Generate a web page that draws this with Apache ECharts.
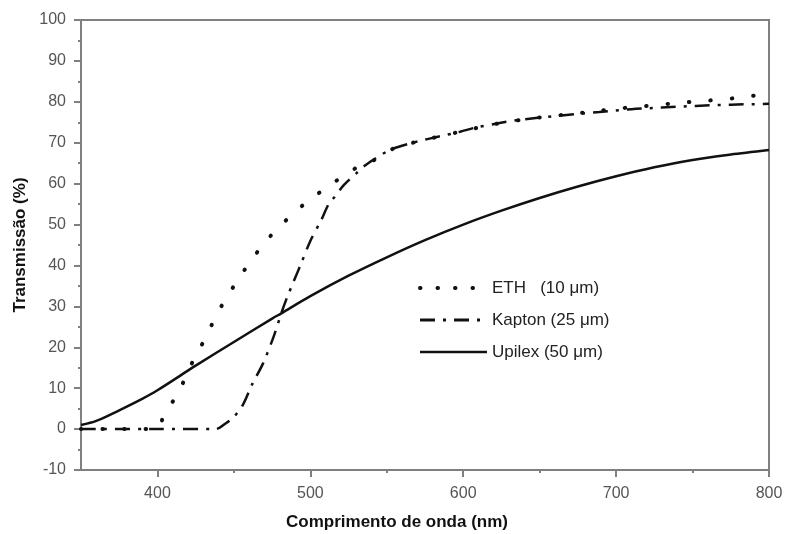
<!DOCTYPE html>
<html>
<head>
<meta charset="utf-8">
<script src="https://cdn.jsdelivr.net/npm/echarts@6/dist/echarts.min.js"></script>
<style>
html,body{margin:0;padding:0;background:#fff;}
#chart{width:789px;height:534px;}
</style>
</head>
<body>
<div id="chart"></div>
<script>
// ---- data ----
const seriesNames = ['ETH   (10 \u03bcm)', 'Kapton (25 \u03bcm)', 'Upilex (50 \u03bcm)'];

const waveETH  = [350, 380, 399, 405, 413, 425, 432, 438, 445, 453, 462, 472, 484, 496, 509, 521, 533, 541, 552, 569, 584, 598, 620, 640, 660, 680, 700, 720, 740, 760, 780, 800];
const transETH = [0,   0,   0,   4,   8.5, 18,  22.6, 27.5, 32, 36.7, 41.6, 46.4, 51, 55, 58.6, 61.7, 64.5, 65.6, 68.2, 70.2, 71.5, 72.7, 74.5, 75.7, 76.6, 77.4, 78.3, 79, 79.7, 80.3, 81, 82];

const waveKapton  = [350, 400, 438, 445, 450, 456, 462, 469, 476, 481, 485, 489, 494, 500, 507, 512, 516, 522, 530, 536, 552, 569, 584, 598, 608, 622, 635, 660, 689, 710, 730, 752, 775, 800];
const transKapton = [0,   0,   0,   1.5, 3,   6,   11,  16,  22.6, 28.3, 32.4, 36, 40.5, 46, 51, 55, 56.8, 59.7, 62.5, 64.5, 68.2, 70.2, 71.5, 72.7, 73.7, 74.7, 75.5, 76.5, 77.5, 78.2, 78.6, 79, 79.3, 79.5];

const waveUpilex  = [350, 360, 375, 390, 400, 425, 450, 475, 481, 500, 525, 550, 575, 600, 625, 650, 675, 700, 725, 750, 775, 800];
const transUpilex = [1,   2,   4.6, 7.4, 9.5, 15.5, 21.3, 27, 28.3, 32.5, 37.5, 42, 46.2, 50, 53.4, 56.5, 59.3, 61.8, 64, 65.8, 67.1, 68.2];

const xTickLabels = [400, 500, 600, 700, 800];
const xMinorTicks = [450, 550, 650, 750];

const xTitle = 'Comprimento de onda (nm)';
const yTitle = 'Transmiss\u00e3o (%)';

// ---- build ----
function pairs(xs, ys){ return xs.map((x,i)=>[x, ys[i]]); }
const FONT = 'Liberation Sans, Arial, sans-serif';
const AXC = '#808080';

const chart = echarts.init(document.getElementById('chart'), null, {renderer:'canvas'});
chart.setOption({
  animation: false,
  backgroundColor: '#fff',
  grid: {left: 81, right: 20, top: 20, bottom: 64, show: true, borderColor: AXC, borderWidth: 2,
         backgroundColor: 'transparent', containLabel: false, outerBoundsMode: 'none'},
  legend: {
    orient: 'vertical', left: 418, top: 278, padding: 0,
    itemWidth: 67, itemHeight: 14, itemGap: 12,
    itemStyle: {opacity: 0, borderWidth: 0},
    textStyle: {fontSize: 17, color: '#222', fontFamily: FONT, lineHeight: 20},
    data: [
      {name: seriesNames[0], lineStyle: {width: 4, type: [0.5, 17], cap: 'round', color: '#111'}},
      {name: seriesNames[1], lineStyle: {width: 3, type: [15, 8, 3, 8], color: '#111'}},
      {name: seriesNames[2], lineStyle: {width: 2.5, color: '#111'}}
    ]
  },
  xAxis: [{
    type: 'value', min: 350, max: 800, position: 'bottom',
    axisLine: {show: true, onZero: false, lineStyle: {color: AXC, width: 2}},
    axisTick: {show: true, inside: false, customValues: xTickLabels, length: 7, lineStyle: {color: AXC, width: 2}},
    axisLabel: {customValues: xTickLabels, color: '#555', fontSize: 16, margin: 16, fontFamily: FONT},
    splitLine: {show: false},
    name: xTitle, nameLocation: 'middle', nameGap: 44,
    nameTextStyle: {fontSize: 17, fontWeight: 'bold', color: '#111', fontFamily: FONT, padding: [0, 56, 0, 0]}
  }, {
    type: 'value', min: 350, max: 800, position: 'bottom', gridIndex: 0,
    axisLine: {show: false, onZero: false},
    axisTick: {show: true, inside: false, customValues: xMinorTicks, length: 3, lineStyle: {color: AXC, width: 2}},
    axisLabel: {show: false},
    splitLine: {show: false}
  }],
  yAxis: {
    type: 'value', min: -10, max: 100, interval: 10,
    axisLine: {show: true, onZero: false, lineStyle: {color: AXC, width: 2}},
    axisTick: {show: true, inside: false, length: 7, lineStyle: {color: AXC, width: 2}},
    minorTick: {show: true, splitNumber: 2, length: 3, lineStyle: {color: AXC, width: 2}},
    axisLabel: {color: '#555', fontSize: 16, margin: 15, fontFamily: FONT},
    splitLine: {show: false},
    name: yTitle, nameLocation: 'middle', nameGap: 47,
    nameTextStyle: {fontSize: 17, fontWeight: 'bold', color: '#111', fontFamily: FONT}
  },
  series: [{
    name: seriesNames[0], type: 'line', xAxisIndex: 0, symbol: 'none', smooth: 0.3,
    data: pairs(waveETH, transETH),
    lineStyle: {color: '#111', width: 4, type: [0.5, 21], cap: 'round'},
    itemStyle: {color: '#111'}, z: 3
  }, {
    name: seriesNames[1], type: 'line', xAxisIndex: 0, symbol: 'none', smooth: 0.3,
    data: pairs(waveKapton, transKapton),
    lineStyle: {color: '#111', width: 2.5, type: [15, 8, 3, 8]},
    itemStyle: {color: '#111'}, z: 2
  }, {
    name: seriesNames[2], type: 'line', xAxisIndex: 0, symbol: 'none', smooth: 0.3,
    data: pairs(waveUpilex, transUpilex),
    lineStyle: {color: '#111', width: 2.5},
    itemStyle: {color: '#111'}, z: 2
  }]
});
</script>
</body>
</html>
